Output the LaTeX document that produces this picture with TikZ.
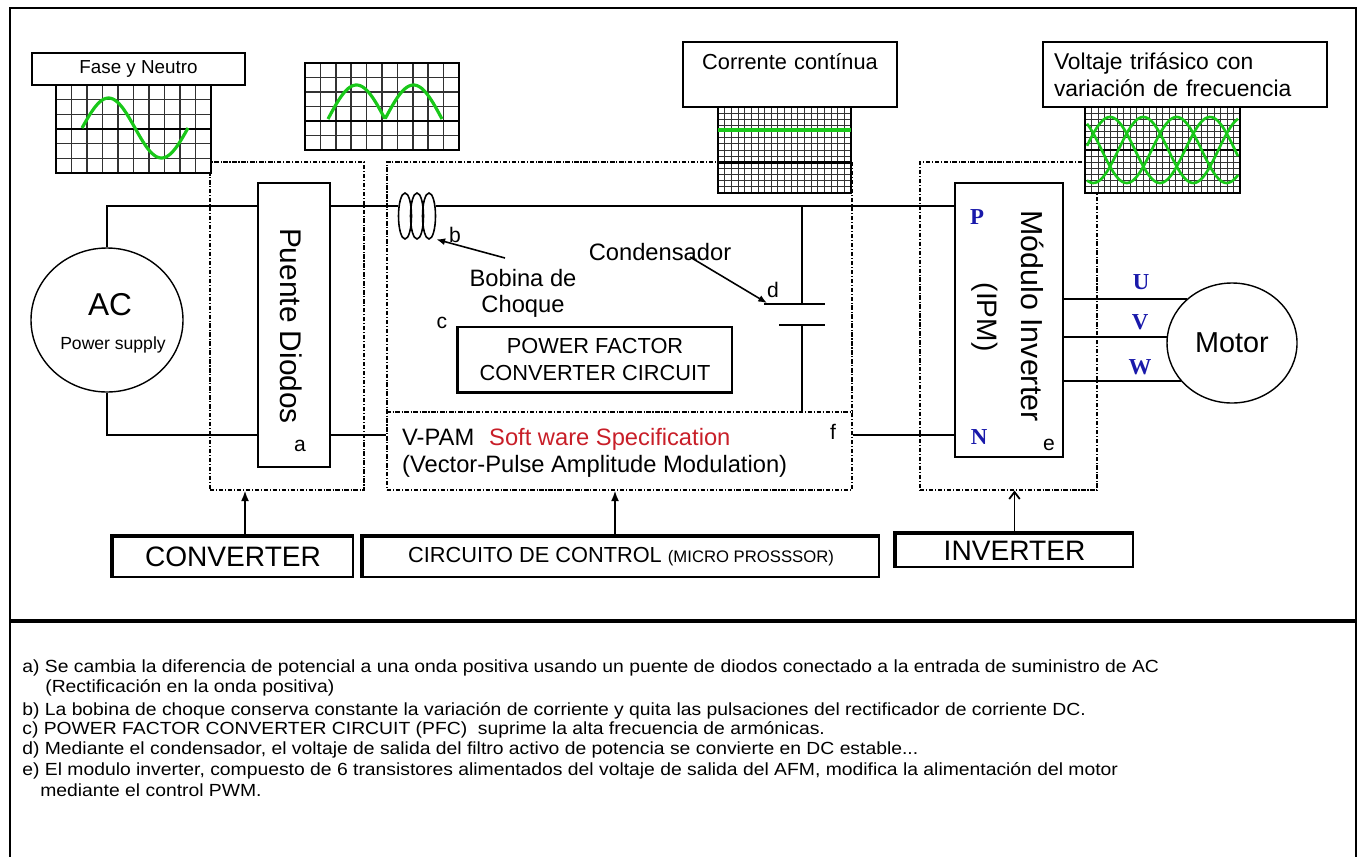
\documentclass[tikz,border=0pt]{standalone}
\usepackage{fontspec}
\setmainfont{Liberation Sans}
\newfontfamily\pinfont{Liberation Serif}
\newfontfamily\notefont[FakeStretch=1.1]{Liberation Sans}
\usetikzlibrary{arrows.meta,shapes.geometric,positioning}

\definecolor{scopegreen}{RGB}{25,200,25}
\definecolor{pinblue}{RGB}{25,25,170}
\definecolor{swred}{RGB}{200,30,40}
\definecolor{gridgray}{RGB}{50,50,50}

% one unit = one pixel of the layout
\newcommand{\un}{0.02cm}
\newcommand{\fsz}[1]{\fontsize{#1}{#1}\selectfont}

% oscilloscope screen: x1 y1 x2 y2 columns rows thick-row line-width
\newcommand{\oscgrid}[8]{%
  \fill[white] (#1,#2) rectangle (#3,#4);
  \foreach \i in {1,...,#5}
    \draw[gridgray, line width=#8] ({#1+(#3-#1)/#5*\i},#2) -- ({#1+(#3-#1)/#5*\i},#4);
  \foreach \j in {1,...,#6}
    \draw[gridgray, line width=#8] (#1,{#2+(#4-#2)/#6*\j}) -- (#3,{#2+(#4-#2)/#6*\j});
  \draw[line width=1.6pt] (#1,{#2+(#4-#2)/#6*#7}) -- (#3,{#2+(#4-#2)/#6*#7});
  \draw[line width=1.2pt] (#1,#2) rectangle (#3,#4);
}

\begin{document}
\begin{tikzpicture}[x=0.02cm, y=-0.02cm,
    wire/.style={line width=1.1pt},
    dbox/.style={draw, line width=0.6pt, dash pattern=on 2.5pt off 1pt on 0.6pt off 1pt, inner sep=0pt},
    blk/.style={draw, line width=0.8pt, fill=white, inner sep=0pt},
    tag/.style={draw, line width=0.8pt, fill=white, inner sep=0pt},
    ctlbox/.style={draw, line width=0.8pt, inner sep=0pt},
    pin/.style={text=pinblue, font=\pinfont\bfseries\fsz{13}},
    letter/.style={font=\fsz{12}},
    ctl/.style={line width=1pt, -{Latex[length=6pt,width=4.5pt]}},
    pointer/.style={line width=0.9pt, -{Latex[length=5pt,width=4pt]}},
    wave/.style={scopegreen, line width=1.8pt},
    note/.style={anchor=west, font=\notefont\fsz{10}, inner sep=0pt}]
  \useasboundingbox (0,0) rectangle (1361,856);

  % outer frame and separator
  \draw[line width=1.1pt] (10,880) -- (10,8) -- (1356,8) -- (1356,880);
  \draw[line width=1.8pt] (10,621) -- (1356,621);

  % converter / control / inverter stages
  \node[dbox, minimum width=154*\un, minimum height=328*\un] (conv) at (287,326) {};
  \node[dbox, minimum width=465*\un, minimum height=328*\un] (mid) at (619.5,326) {};
  \node[dbox, minimum width=177*\un, minimum height=328*\un] (inv) at (1008.5,326) {};
  \coordinate (vp) at (0,412);
  \draw[dbox] (mid.west |- vp) -- (mid.east |- vp);

  % scope screens
  \oscgrid{56}{85}{211}{173}{10}{6}{3}{0.9pt}
  \oscgrid{305}{63}{459}{150}{10}{6}{4}{0.9pt}
  \oscgrid{718}{107}{851}{193}{20}{14}{9}{0.45pt}
  \oscgrid{1085}{107}{1240}{193}{24}{14}{7}{0.45pt}
  \draw[wave] plot[domain=82:188, samples=60] (\x, {128-30*sin(3.396*(\x-82))});
  \draw[wave] plot[domain=328:442, samples=80] (\x, {119-34*abs(sin(3.158*(\x-328)))});
  \draw[wave] (718,130) -- (851,130);
  \foreach \ph in {0,120,240}
    \draw[wave, line width=1.5pt] plot[domain=1087:1238, samples=80] (\x, {150-33*sin(3.6*(\x-1085)+\ph)});

  \node[tag, minimum width=213*\un, minimum height=32*\un, font=\fsz{10.7}] (fase) at (138.5,69) {Fase y Neutro};
  \node[tag, text width=192*\un, inner xsep=11*\un, minimum height=65*\un, align=center,
        font=\fontsize{12.4}{15.3}\selectfont] (dc) at (790,74.5) {Corrente contínua\\\mbox{}};
  \node[tag, text width=262*\un, inner xsep=11*\un, minimum height=65*\un, align=left,
        font=\fontsize{13}{15.3}\selectfont] (tri) at (1185,74.5) {Voltaje trifásico con\\variación de frecuencia};

  % supply and bridge
  \node[ellipse, draw, line width=0.8pt, minimum width=152*\un, minimum height=144*\un, inner sep=0pt] (ac) at (107,320) {};
  \node[font=\fsz{18}] (actxt) at (110,305) {AC};
  \node[font=\fsz{10}] (pstxt) at (113,345) {Power supply};

  \node[blk, minimum width=72*\un, minimum height=284*\un] (puente) at (294,325) {};
  \node[rotate=-90, font=\fsz{17}] (puentetxt) at (291,326) {Puente Diodos};
  \node[letter] (la) at (300,446) {a};

  % inverter module
  \node[blk, minimum width=108*\un, minimum height=274*\un] (ipm) at (1009,320) {};
  \node[rotate=-90, font=\fsz{16}] (ipmtxt) at (985,317) {(IPM)};
  \node[rotate=-90, font=\fsz{17.3}] (modtxt) at (1033,316) {Módulo Inverter};
  \node[pin] (pp) at (977,217) {P};
  \node[pin] (pn) at (979,437) {N};
  \node[letter] (le) at (1049,445) {e};

  % DC rails
  \coordinate (railp) at (0,206);
  \coordinate (railn) at (0,435);
  \node[minimum width=38*\un, minimum height=46*\un, inner sep=0pt] (coil) at (417,216) {};
  \draw[wire] (ac.north) |- (puente.west |- railp);
  \draw[wire] (ac.south) |- (puente.west |- railn);
  \draw[wire] (puente.east |- railp) -- (coil.west |- railp);
  \draw[wire] (coil.east |- railp) -- (ipm.west |- railp);
  \draw[wire] (puente.east |- railn) -- (mid.west |- railn);
  \draw[wire] (mid.east |- railn) -- (ipm.west |- railn);
  \foreach \cx in {405,417,429}
    \draw[line width=0.9pt] (\cx,216) ellipse [x radius=6.5, y radius=23];

  % choke label
  \node[align=center, font=\fontsize{13.5}{14.8}\selectfont] (bob) at (523,293) {Bobina de\\Choque};
  \coordinate (bobtail) at (505,258);
  \draw[pointer] (bobtail) -- (coil.south east);
  \node[letter] (lb) at (455,235) {b};

  % capacitor
  \coordinate (cap1) at (802,304);
  \coordinate (cap2) at (802,325);
  \draw[wire] (cap1 |- railp) -- (cap1);
  \draw[wire] (764,304) -- (825,304);
  \draw[wire] (779,325) -- (825,325);
  \draw[wire] (cap2) -- (cap2 |- vp);
  \node[font=\fsz{13.5}] (cond) at (660,252) {Condensador};
  \coordinate (condtail) at (690,257);
  \coordinate (condtip) at (767,303);
  \draw[pointer] (condtail) -- (condtip);
  \node[letter] (ld) at (773,290) {d};

  % PFC block
  \node[blk, minimum width=274*\un, minimum height=65*\un, align=center,
        font=\fontsize{12.4}{15.3}\selectfont] (pfc) at (595,359.5) {POWER FACTOR\\CONVERTER CIRCUIT};
  \draw[line width=2pt] (pfc.north west) |- (pfc.south east);
  \node[letter] (lc) at (442,323) {c};

  % V-PAM software
  \node[anchor=west, font=\fsz{13.5}] (vpam) at (396,439) {V-PAM\hspace{8.5pt}\textcolor{swred}{Soft ware Specification}};
  \node[anchor=west, font=\fsz{13.5}] (vpamlong) at (396,466) {(Vector-Pulse Amplitude Modulation)};
  \node[letter] (lf) at (833,432) {f};

  % motor
  \node[ellipse, draw, line width=0.8pt, fill=white, minimum width=130*\un, minimum height=120*\un,
        inner sep=0pt, font=\fsz{16.4}] (motor) at (1232,343) {Motor};
  \draw[wire] (motor.136) -- (motor.136 -| ipm.east);
  \draw[wire] (motor.175.6) -- (motor.175.6 -| ipm.east);
  \draw[wire] (motor.217) -- (motor.217 -| ipm.east);
  \node[pin] (pu) at (1141,282) {U};
  \node[pin] (pv) at (1140,322) {V};
  \node[pin] (pw) at (1140,367) {W};

  % stage captions
  \node[ctlbox, minimum width=240*\un, minimum height=40*\un, font=\fsz{16}] (convbox) at (233,557) {CONVERTER};
  \node[ctlbox, minimum width=516*\un, minimum height=40*\un, font=\fsz{12.4}] (ctrlbox) at (621,557)
       {CIRCUITO DE CONTROL {\fsz{9.5}(MICRO PROSSSOR)}};
  \node[ctlbox, minimum width=237*\un, minimum height=33*\un, font=\fsz{16}] (invbox) at (1014.5,550.5) {INVERTER};
  \foreach \b in {convbox,ctrlbox,invbox}
    \draw[line width=2.2pt] (\b.south west) |- (\b.north east);
  \coordinate (ca) at (245,0);
  \coordinate (cb) at (615,0);
  \draw[ctl] (convbox.north -| ca) -- (conv.south -| ca);
  \draw[ctl] (ctrlbox.north -| cb) -- (mid.south -| cb);
  \draw[line width=1pt, -{Straight Barb[length=4pt,width=6pt]}] (invbox.north) -- (inv.south -| invbox.north);

  % notes
  \node[note] (na) at (22,668) {a) Se cambia la diferencia de potencial a una onda positiva usando un puente de diodos conectado a la entrada de suministro de AC};
  \node[note] (na2) at (45,688) {(Rectificación en la onda positiva)};
  \node[note] (nb) at (22,711) {b) La bobina de choque conserva constante la variación de corriente y quita las pulsaciones del rectificador de corriente DC.};
  \node[note] (nc) at (22,730) {c) POWER FACTOR CONVERTER CIRCUIT (PFC)\ \ suprime la alta frecuencia de armónicas.};
  \node[note] (nd) at (22,750) {d) Mediante el condensador, el voltaje de salida del filtro activo de potencia se convierte en DC estable...};
  \node[note] (ne) at (22,771) {e) El modulo inverter, compuesto de 6 transistores alimentados del voltaje de salida del AFM, modifica la alimentación del motor};
  \node[note] (ne2) at (40,790) {mediante el control PWM.};
\end{tikzpicture}
\end{document}
